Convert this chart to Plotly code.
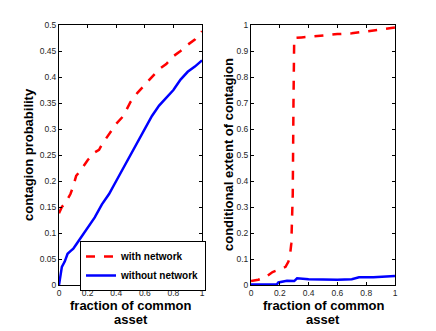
import plotly.graph_objs as go
from plotly.subplots import make_subplots

# left panel: contagion probability
x_left_net = [0, 0.02, 0.05, 0.08, 0.1, 0.12, 0.15, 0.2, 0.25, 0.28, 0.3, 0.35, 0.4, 0.45, 0.5,
              0.55, 0.6, 0.65, 0.7, 0.75, 0.8, 0.85, 0.9, 0.95, 1.0]
y_left_net = [0.138, 0.15, 0.16, 0.175, 0.19, 0.21, 0.22, 0.24, 0.255, 0.26, 0.27, 0.29, 0.31,
              0.325, 0.352, 0.37, 0.385, 0.4, 0.415, 0.425, 0.44, 0.45, 0.462, 0.472, 0.488]

x_left_nonet = [0, 0.01, 0.02, 0.04, 0.06, 0.08, 0.1, 0.12, 0.15, 0.2, 0.25, 0.3, 0.35, 0.4,
                0.45, 0.5, 0.55, 0.6, 0.65, 0.7, 0.75, 0.8, 0.85, 0.9, 0.95, 1.0]
y_left_nonet = [0, 0.022, 0.035, 0.045, 0.06, 0.065, 0.07, 0.078, 0.09, 0.11, 0.13, 0.155,
                0.175, 0.2, 0.225, 0.25, 0.275, 0.3, 0.325, 0.345, 0.36, 0.375, 0.395, 0.41,
                0.42, 0.432]

# right panel: conditional extent of contagion
x_right_net = [0, 0.05, 0.1, 0.15, 0.2, 0.24, 0.26, 0.27, 0.28, 0.29, 0.295, 0.3, 0.35,
               0.4, 0.5, 0.6, 0.7, 0.8, 0.9, 1.0]
y_right_net = [0.015, 0.02, 0.03, 0.05, 0.06, 0.07, 0.09, 0.11, 0.16, 0.35, 0.7, 0.95, 0.952,
               0.955, 0.96, 0.965, 0.968, 0.975, 0.982, 0.99]

x_right_nonet = [0, 0.1, 0.18, 0.19, 0.25, 0.3, 0.32, 0.4, 0.5, 0.6, 0.7, 0.75, 0.85, 0.9,
                 0.95, 1.0]
y_right_nonet = [0.002, 0.002, 0.003, 0.01, 0.016, 0.015, 0.026, 0.022, 0.02, 0.02, 0.022,
                 0.03, 0.03, 0.032, 0.035, 0.035]

x_ticks = [0, 0.2, 0.4, 0.6, 0.8, 1]
x_ticktext = ["0", "0.2", "0.4", "0.6", "0.8", "1"]

# page body adds an 8px margin, so the figure is a bit smaller than the window
W, H = 428, 323

fig = make_subplots(rows=1, cols=2)

red = dict(color="#ff0000", width=2.5, dash="dash")
blue = dict(color="#0000ff", width=2.5)

fig.add_trace(go.Scatter(x=x_left_net, y=y_left_net, mode="lines", line=red,
                         name="<b>with network</b>"), row=1, col=1)
fig.add_trace(go.Scatter(x=x_left_nonet, y=y_left_nonet, mode="lines", line=blue,
                         name="<b>without network</b>"), row=1, col=1)
fig.add_trace(go.Scatter(x=x_right_net, y=y_right_net, mode="lines", line=red,
                         showlegend=False), row=1, col=2)
fig.add_trace(go.Scatter(x=x_right_nonet, y=y_right_nonet, mode="lines", line=blue,
                         showlegend=False), row=1, col=2)

axis_style = dict(showline=True, linecolor="black", linewidth=1, mirror="ticks",
                  ticks="inside", ticklen=3, tickcolor="black", showgrid=False,
                  zeroline=False, automargin=False,
                  tickfont=dict(family="Liberation Sans", size=8.5, color="#262626"))
title_font = dict(family="Liberation Sans", size=13, color="black")

y_dom = [1 - 277 / H, 1 - 17 / H]
fig.update_xaxes(**axis_style, range=[0, 1], tickvals=x_ticks, ticktext=x_ticktext)
fig.update_xaxes(domain=[51 / W, 194 / W], row=1, col=1)
fig.update_xaxes(domain=[243 / W, 387 / W], row=1, col=2)

fig.update_yaxes(**axis_style, tickformat="~g", domain=y_dom)
fig.update_yaxes(range=[0, 0.5], dtick=0.05, row=1, col=1)
fig.update_yaxes(range=[0, 1], dtick=0.1, row=1, col=2)

# axis titles (x title drawn as two lines to keep MATLAB-like tight spacing)
for xr, yt_x, yt_text in [("x domain", 21 / W, "<b>contagion probability</b>"),
                          ("x2 domain", 221 / W, "<b>conditional extent of contagion</b>")]:
    fig.add_annotation(text="<b>fraction of common</b>", xref=xr, yref="paper",
                       x=0.5, y=1 - 297 / H, showarrow=False, font=title_font,
                       xanchor="center", yanchor="middle")
    fig.add_annotation(text="<b>asset</b>", xref=xr, yref="paper",
                       x=0.5, y=1 - 311 / H, showarrow=False, font=title_font,
                       xanchor="center", yanchor="middle")
    fig.add_annotation(text=yt_text, xref="paper", yref="paper", x=yt_x, y=1 - 147 / H,
                       textangle=-90, showarrow=False, font=title_font,
                       xanchor="center", yanchor="middle")

fig.update_layout(
    width=W, height=H,
    margin=dict(l=0, r=0, t=0, b=0),
    paper_bgcolor="white", plot_bgcolor="white",
    showlegend=True,
    legend=dict(x=72 / W, y=1 - 233 / H, xanchor="left", yanchor="top",
                bordercolor="black", borderwidth=1, bgcolor="white",
                font=dict(family="Liberation Sans", size=10, color="black"),
                tracegroupgap=0, itemwidth=30),
)

fig.write_html("out.html")
